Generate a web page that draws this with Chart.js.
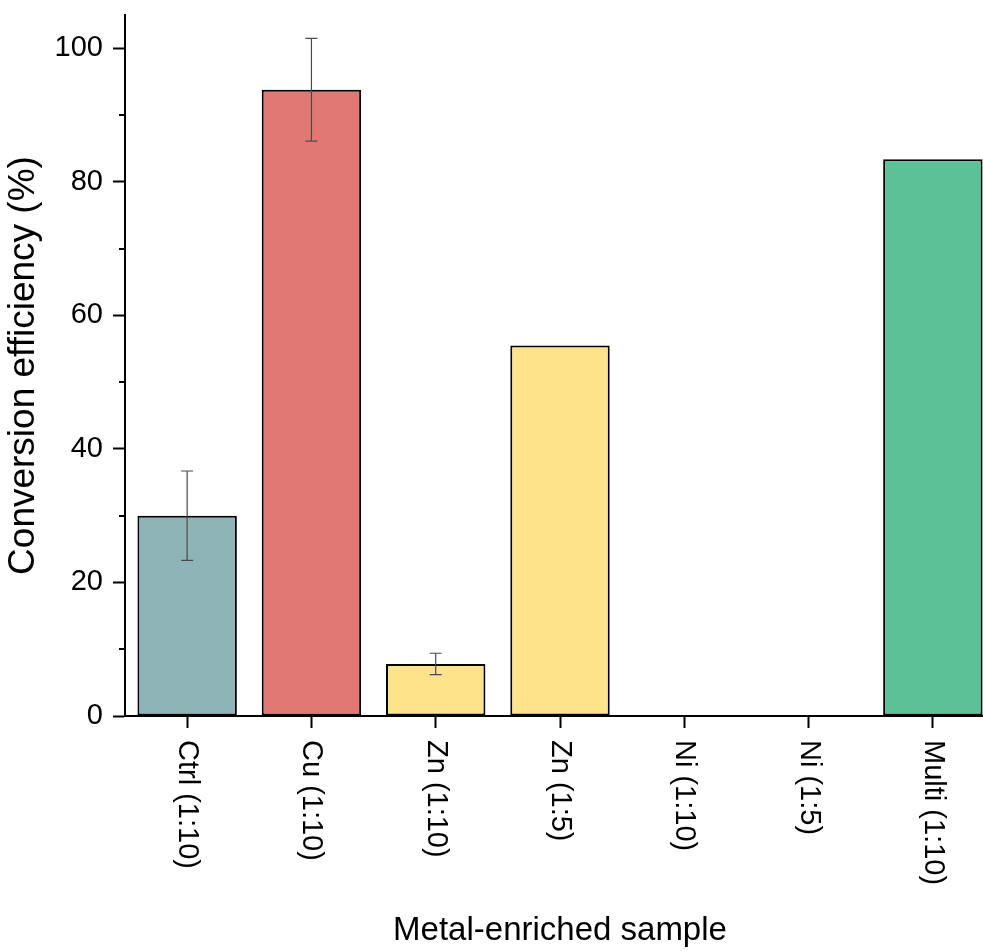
<!DOCTYPE html>
<html>
<head>
<meta charset="utf-8">
<script src="https://cdn.jsdelivr.net/npm/chart.js@4"></script>
<style>
  html, body { margin: 0; padding: 0; background: #fff; overflow: hidden; }
  #wrap { width: 1000px; height: 951px; position: relative; }
</style>
</head>
<body>
<div id="wrap"><canvas id="c" width="1000" height="951"></canvas></div>
<script>
const categories = ['Ctrl (1:10)', 'Cu (1:10)', 'Zn (1:10)', 'Zn (1:5)', 'Ni (1:10)', 'Ni (1:5)', 'Multi (1:10)'];
const efficiency = [30.0, 93.8, 7.8, 55.5, 0, 0, 83.4];
const errors = [6.7, 7.7, 1.6, 0, 0, 0, 0];
const barColors = ['#8FB4B8', '#E27873', '#FEE38A', '#FEE38A', '#8FB4B8', '#8FB4B8', '#5CC196'];
const majorTicks = [0, 20, 40, 60, 80, 100];
const minorTicks = [10, 30, 50, 70, 90];
const yTitle = 'Conversion efficiency (%)';
const xTitle = 'Metal-enriched sample';

const FONT = '"Liberation Sans", Arial, sans-serif';

const extras = {
  id: 'extras',
  afterDatasetsDraw(chart) {
    const ctx = chart.ctx;
    const meta = chart.getDatasetMeta(0);
    const ys = chart.scales.y;
    ctx.save();
    ctx.strokeStyle = '#4a4a4a';
    ctx.lineWidth = 1.2;
    errors.forEach((e, i) => {
      if (!e) return;
      const x = meta.data[i].x;
      const yt = ys.getPixelForValue(efficiency[i] + e);
      const yb = ys.getPixelForValue(efficiency[i] - e);
      ctx.beginPath();
      ctx.moveTo(x, yt); ctx.lineTo(x, yb);
      ctx.moveTo(x - 6, yt); ctx.lineTo(x + 6, yt);
      ctx.moveTo(x - 6, yb); ctx.lineTo(x + 6, yb);
      ctx.stroke();
    });
    ctx.restore();
  },
  afterDraw(chart) {
    const ctx = chart.ctx;
    const ys = chart.scales.y;
    const xs = chart.scales.x;
    const left = chart.chartArea.left;
    ctx.save();
    ctx.strokeStyle = '#000';
    ctx.lineWidth = 2;
    minorTicks.forEach(v => {
      const y = Math.round(ys.getPixelForValue(v));
      ctx.beginPath();
      ctx.moveTo(left - 6, y); ctx.lineTo(left, y);
      ctx.stroke();
    });
    ctx.fillStyle = '#000';
    ctx.font = '29px ' + FONT;
    ctx.textAlign = 'left';
    ctx.textBaseline = 'middle';
    categories.forEach((lab, i) => {
      const x = xs.getPixelForValue(i);
      ctx.save();
      ctx.translate(x, chart.chartArea.bottom + 24);
      ctx.rotate(Math.PI / 2);
      ctx.fillText(lab, 0, 0);
      ctx.restore();
    });
    ctx.restore();
  }
};

new Chart(document.getElementById('c'), {
  type: 'bar',
  data: {
    labels: categories,
    datasets: [{
      data: efficiency,
      backgroundColor: barColors,
      borderColor: '#000',
      borderWidth: 2,
      borderSkipped: false,
      categoryPercentage: 0.8,
      barPercentage: 1.0
    }]
  },
  options: {
    responsive: false,
    animation: false,
    devicePixelRatio: 1,
    layout: { padding: { top: 15, right: 5, left: 0, bottom: 0 } },
    plugins: { legend: { display: false }, tooltip: { enabled: false } },
    scales: {
      x: {
        type: 'category',
        offset: true,
        grid: { display: true, offset: false, drawOnChartArea: false, drawTicks: true, tickLength: 12, tickWidth: 2, color: '#000' },
        border: { display: true, color: '#000', width: 2 },
        ticks: { display: false },
        title: { display: true, text: xTitle, color: '#000', font: { family: FONT, size: 33 }, padding: { top: 0, bottom: 0 } },
        afterFit(scale) { scale.height = 235; scale.paddingLeft = 0; scale.paddingRight = 0; }
      },
      y: {
        min: 0,
        max: 105,
        grid: { display: true, drawOnChartArea: false, drawTicks: true, tickLength: 12, tickWidth: 2, color: '#000' },
        border: { display: true, color: '#000', width: 2 },
        ticks: {
          stepSize: 20,
          includeBounds: false,
          padding: 10,
          color: '#000',
          font: { family: FONT, size: 29 }
        },
        afterBuildTicks(scale) { scale.ticks = majorTicks.map(v => ({ value: v })); },
        title: { display: true, text: yTitle, color: '#000', font: { family: FONT, size: 37 }, padding: { top: 2, bottom: 0 } },
        afterFit(scale) { scale.width = 125; scale.paddingTop = 0; scale.paddingBottom = 0; }
      }
    }
  },
  plugins: [extras]
});
</script>
</body>
</html>
